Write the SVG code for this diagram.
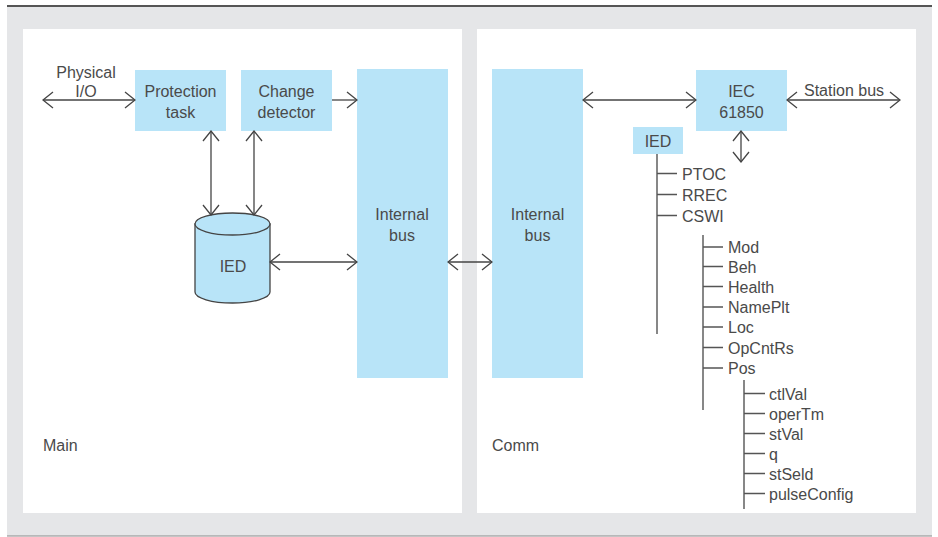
<svg xmlns="http://www.w3.org/2000/svg" width="938" height="537" viewBox="0 0 938 537">
<defs>
<marker id="ah" viewBox="0 0 12 18" refX="11" refY="9" markerWidth="12" markerHeight="18" markerUnits="userSpaceOnUse" orient="auto-start-reverse">
<path d="M1,1 L11,9 L1,17" fill="none" stroke="#444" stroke-width="1.3"/>
</marker>
<style>
text{font-family:"Liberation Sans",Arial,sans-serif;font-size:16px;fill:#4a4a4a}
.c{text-anchor:middle}
.box{fill:#b8e4f8}
.ln{stroke:#444;stroke-width:1.3;fill:none}
.tr{stroke:#555;stroke-width:1.4;fill:none}
.a2{marker-start:url(#ah);marker-end:url(#ah)}
.a1{marker-end:url(#ah)}
</style>
</defs>
<rect x="7" y="6" width="925" height="530" fill="#e5e6e8"/>
<line x1="7" y1="6" x2="932" y2="6" stroke="#555" stroke-width="1.8"/>
<line x1="7" y1="536" x2="932" y2="536" stroke="#8a8a8a" stroke-width="1.2"/>
<g id="main-panel">
<rect x="23" y="29" width="439" height="484" fill="#fff"/>
<text x="43" y="451">Main</text>
</g>
<g id="comm-panel">
<rect x="477" y="29" width="439" height="484" fill="#fff"/>
<text x="492" y="451">Comm</text>
</g>
<g id="protection-task">
<rect class="box" x="135" y="70" width="91" height="61"/>
<text class="c" x="180.5" y="96.5">Protection</text>
<text class="c" x="180.5" y="117.5">task</text>
</g>
<g id="change-detector">
<rect class="box" x="241" y="70" width="91" height="61"/>
<text class="c" x="286.5" y="96.5">Change</text>
<text class="c" x="286.5" y="117.5">detector</text>
</g>
<g id="internal-bus-main">
<rect class="box" x="357" y="69" width="91" height="309"/>
<text class="c" x="402" y="220">Internal</text>
<text class="c" x="402" y="241">bus</text>
</g>
<g id="internal-bus-comm">
<rect class="box" x="492" y="69" width="91" height="309"/>
<text class="c" x="537.5" y="220">Internal</text>
<text class="c" x="537.5" y="241">bus</text>
</g>
<g id="iec61850">
<rect class="box" x="696" y="70" width="91" height="61"/>
<text class="c" x="741.5" y="96.5">IEC</text>
<text class="c" x="741.5" y="117.5">61850</text>
</g>
<g id="ied-db">
<path d="M195,224 L195,292 A37.5,11 0 0 0 270,292 L270,224 Z" fill="#b8e4f8" stroke="#444" stroke-width="1.3"/>
<ellipse cx="232.5" cy="224" rx="37.5" ry="11" fill="#b8e4f8" stroke="#444" stroke-width="1.3"/>
<text class="c" x="233" y="272">IED</text>
</g>
<g id="ied-tree-root">
<rect class="box" x="633" y="127" width="50" height="27"/>
<text class="c" x="658" y="147">IED</text>
</g>
<g id="labels">
<text class="c" x="86" y="78">Physical</text>
<text class="c" x="86" y="97">I/O</text>
<text x="804" y="96">Station bus</text>
</g>
<g id="connectors">
<line class="ln a2" x1="43" y1="100" x2="135" y2="100"/>
<line class="ln a1" x1="332" y1="100" x2="357" y2="100"/>
<line class="ln a2" x1="583" y1="100" x2="696" y2="100"/>
<line class="ln a2" x1="787" y1="100" x2="900" y2="100"/>
<line class="ln a2" x1="741" y1="131" x2="741" y2="162"/>
<line class="ln a2" x1="211" y1="131" x2="211" y2="215"/>
<line class="ln a2" x1="254" y1="131" x2="254" y2="215"/>
<line class="ln a2" x1="270" y1="262" x2="357" y2="262"/>
<line class="ln a2" x1="448" y1="262" x2="492" y2="262"/>
</g>
<g id="tree">
<path class="tr" d="M657,154 V334 M657,173.5 H677 M657,194.5 H677 M657,215.5 H677"/>
<path class="tr" d="M703,235 V410 M703,247 H723 M703,266.5 H723 M703,286.5 H723 M703,307 H723 M703,327 H723 M703,347.5 H723 M703,368 H723"/>
<path class="tr" d="M744,380 V509 M744,393.5 H765 M744,413.5 H765 M744,433.5 H765 M744,453.5 H765 M744,473.5 H765 M744,493.5 H765"/>
<text x="682" y="180">PTOC</text>
<text x="682" y="201">RREC</text>
<text x="682" y="222">CSWI</text>
<text x="728" y="253">Mod</text>
<text x="728" y="272.5">Beh</text>
<text x="728" y="292.5">Health</text>
<text x="728" y="313">NamePlt</text>
<text x="728" y="333">Loc</text>
<text x="728" y="353.5">OpCntRs</text>
<text x="728" y="374">Pos</text>
<text x="769" y="399.5">ctlVal</text>
<text x="769" y="419.5">operTm</text>
<text x="769" y="439.5">stVal</text>
<text x="769" y="459.5">q</text>
<text x="769" y="479.5">stSeld</text>
<text x="769" y="499.5">pulseConfig</text>
</g>
</svg>
